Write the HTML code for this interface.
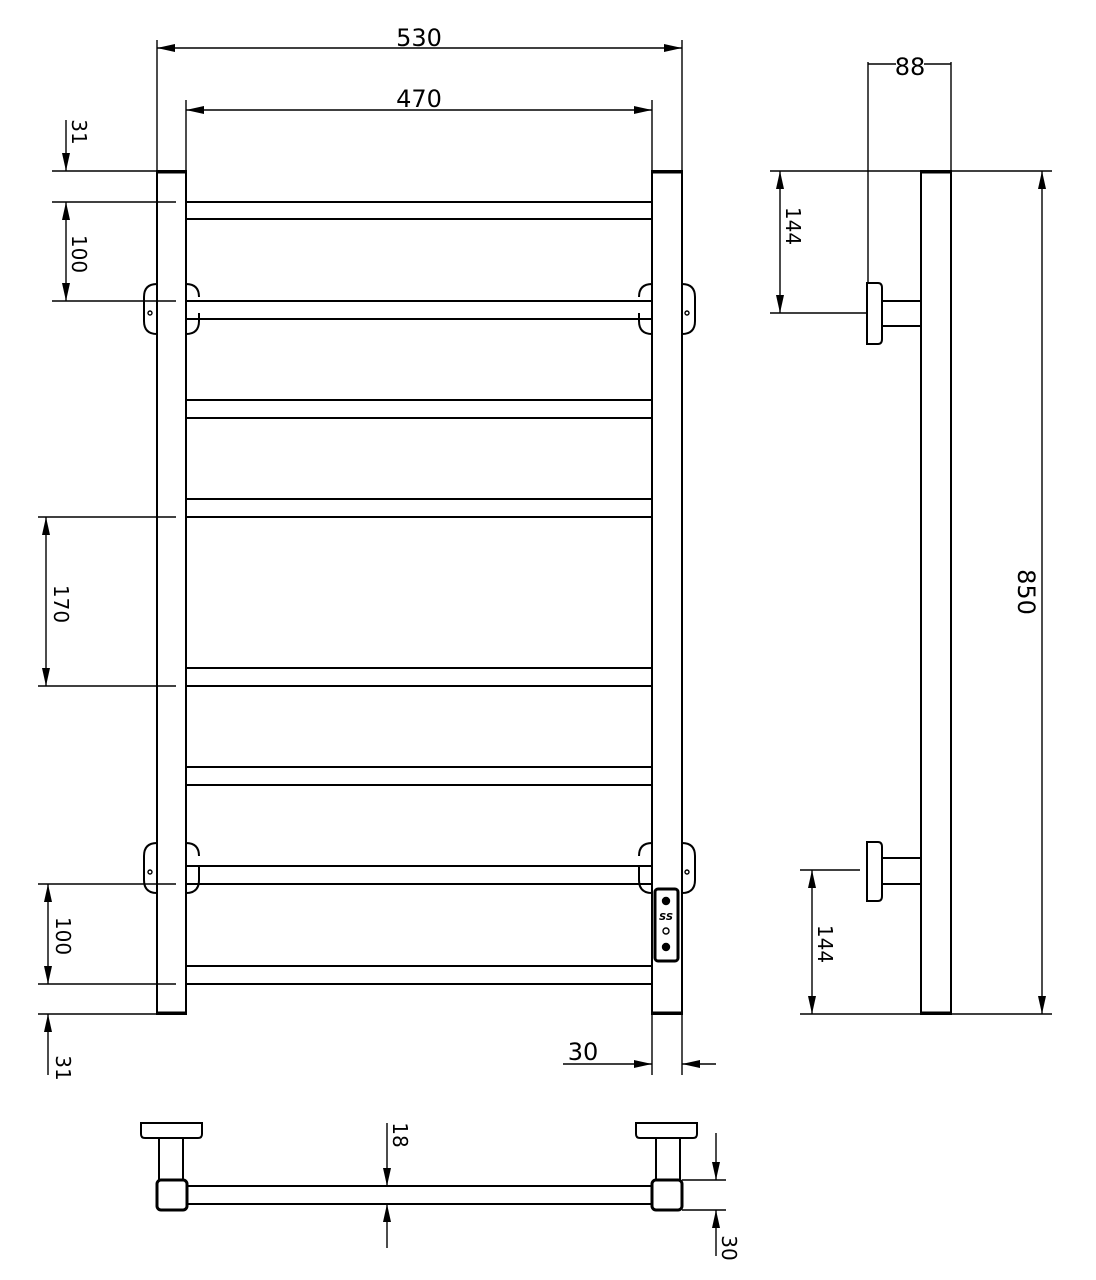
<!DOCTYPE html>
<html><head><style>body{margin:0;background:#fff}svg{display:block}</style></head>
<body>
<svg width="1096" height="1280" viewBox="0 0 1096 1280" xmlns="http://www.w3.org/2000/svg" font-family="DejaVu Sans, Liberation Sans, sans-serif">
<defs>
<marker id="a" viewBox="0 0 18 8" refX="18" refY="4" markerWidth="18" markerHeight="8" markerUnits="userSpaceOnUse" orient="auto-start-reverse"><path d="M0,0 L18,4 L0,8 z" fill="#000"/></marker>
</defs>
<g stroke="#000" fill="none" stroke-width="1.4">
<path d="M157 40V171M682 40V171"/>
<line x1="157" y1="48" x2="682" y2="48" marker-start="url(#a)" marker-end="url(#a)"/>
<path d="M186 100V171M652 100V171"/>
<line x1="186" y1="110" x2="652" y2="110" marker-start="url(#a)" marker-end="url(#a)"/>
<g stroke-width="2">
<rect x="157" y="171" width="29" height="843"/>
<rect x="652" y="171" width="30" height="843"/>
</g>
<g stroke-width="3">
<line x1="157" y1="172" x2="186" y2="172"/><line x1="157" y1="1013" x2="186" y2="1013"/>
<line x1="652" y1="172" x2="682" y2="172"/><line x1="652" y1="1013" x2="682" y2="1013"/>
</g>
<g stroke-width="2">
<path d="M186 202H652M186 219H652M186 301H652M186 319H652M186 400H652M186 418H652M186 499H652M186 517H652M186 668H652M186 686H652M186 767H652M186 785H652M186 866H652M186 884H652M186 966H652M186 984H652"/>
</g>
<path d="M52 171H186M52 202H176M52 301H176M38 517H176M38 686H176M38 884H176M38 984H176M38 1014H157"/>
<line x1="66" y1="120" x2="66" y2="171" marker-end="url(#a)"/>
<line x1="66" y1="202" x2="66" y2="301" marker-start="url(#a)" marker-end="url(#a)"/>
<line x1="46" y1="517" x2="46" y2="686" marker-start="url(#a)" marker-end="url(#a)"/>
<line x1="48" y1="884" x2="48" y2="984" marker-start="url(#a)" marker-end="url(#a)"/>
<line x1="48" y1="1075" x2="48" y2="1014" marker-end="url(#a)"/>
<g stroke-width="2">
<path d="M157 284 Q144 284 144 297 V321 Q144 334 157 334"/>
<path d="M186 284 Q199 284 199 297 M199 313 V321 Q199 334 186 334"/>
<path d="M682 284 Q695 284 695 297 V321 Q695 334 682 334"/>
<path d="M652 284 Q639 284 639 297 M639 313 V321 Q639 334 652 334"/>
<path d="M157 843 Q144 843 144 856 V880 Q144 893 157 893"/>
<path d="M186 843 Q199 843 199 856 M199 866 V880 Q199 893 186 893"/>
<path d="M682 843 Q695 843 695 856 V880 Q695 893 682 893"/>
<path d="M652 843 Q639 843 639 856 M639 866 V880 Q639 893 652 893"/>
</g>
<circle cx="150" cy="313" r="2"/><circle cx="687" cy="313" r="2"/>
<circle cx="150" cy="872" r="2"/><circle cx="687" cy="872" r="2"/>
<rect x="655" y="889" width="23" height="72" rx="3" stroke-width="3"/>
<circle cx="666" cy="901" r="3.5" fill="#000"/>
<circle cx="666" cy="931" r="3"/>
<circle cx="666" cy="947" r="3.5" fill="#000"/>
<path d="M652 1014V1075M682 1014V1075"/>
<line x1="563" y1="1064" x2="652" y2="1064" marker-end="url(#a)"/>
<line x1="716" y1="1064" x2="682" y2="1064" marker-end="url(#a)"/>
<rect x="921" y="171" width="30" height="843" stroke-width="2"/>
<line x1="921" y1="172" x2="951" y2="172" stroke-width="3"/><line x1="921" y1="1013" x2="951" y2="1013" stroke-width="3"/>
<path d="M868 62V283M951 62V171M868 64H896M924 64H951"/>
<path d="M770 171H1052M770 313H868M800 1014H1052M800 870H860"/>
<line x1="780" y1="171" x2="780" y2="313" marker-start="url(#a)" marker-end="url(#a)"/>
<line x1="1042" y1="171" x2="1042" y2="1014" marker-start="url(#a)" marker-end="url(#a)"/>
<line x1="812" y1="870" x2="812" y2="1014" marker-start="url(#a)" marker-end="url(#a)"/>
<g stroke-width="2">
<path d="M867 283H878Q882 283 882 288V339Q882 344 878 344H867Z"/>
<path d="M882 301H921M882 326H921"/>
<path d="M867 842H878Q882 842 882 847V896Q882 901 878 901H867Z"/>
<path d="M882 858H921M882 884H921"/>
</g>
<g stroke-width="2">
<path d="M141 1123H202V1134Q202 1138 198 1138H145Q141 1138 141 1134Z"/>
<path d="M636 1123H697V1134Q697 1138 693 1138H640Q636 1138 636 1134Z"/>
<path d="M159 1138V1180M183 1138V1180M656 1138V1180M680 1138V1180"/>
<path d="M187 1186H652M187 1204H652"/>
</g>
<rect x="157" y="1180" width="30" height="30" rx="4" stroke-width="3"/>
<rect x="652" y="1180" width="30" height="30" rx="4" stroke-width="3"/>
<line x1="387" y1="1123" x2="387" y2="1186" marker-end="url(#a)"/>
<line x1="387" y1="1248" x2="387" y2="1204" marker-end="url(#a)"/>
<path d="M682 1180H726M682 1210H726"/>
<line x1="716" y1="1133" x2="716" y2="1180" marker-end="url(#a)"/>
<line x1="716" y1="1256" x2="716" y2="1210" marker-end="url(#a)"/>
</g>
<g font-size="24" fill="#000" text-anchor="middle">
<text x="419" y="46">530</text>
<text x="419" y="107">470</text>
<text x="910" y="75">88</text>
<text x="583" y="1060">30</text>
</g>
<g font-size="20" fill="#000" text-anchor="middle">
<text transform="translate(72,132) rotate(90)">31</text>
<text transform="translate(72,254) rotate(90)">100</text>
<text transform="translate(54,604) rotate(90)">170</text>
<text transform="translate(56,936) rotate(90)">100</text>
<text transform="translate(56,1068) rotate(90)">31</text>
<text transform="translate(786,226) rotate(90)">144</text>
<text transform="translate(818,944) rotate(90)">144</text>
<text transform="translate(1018,592) rotate(90)" font-size="24">850</text>
<text transform="translate(393,1135) rotate(90)">18</text>
<text transform="translate(722,1248) rotate(90)">30</text>
</g>
<text x="666" y="920" font-size="10" font-weight="bold" text-anchor="middle" font-style="italic">SS</text>
</svg>
</body></html>
